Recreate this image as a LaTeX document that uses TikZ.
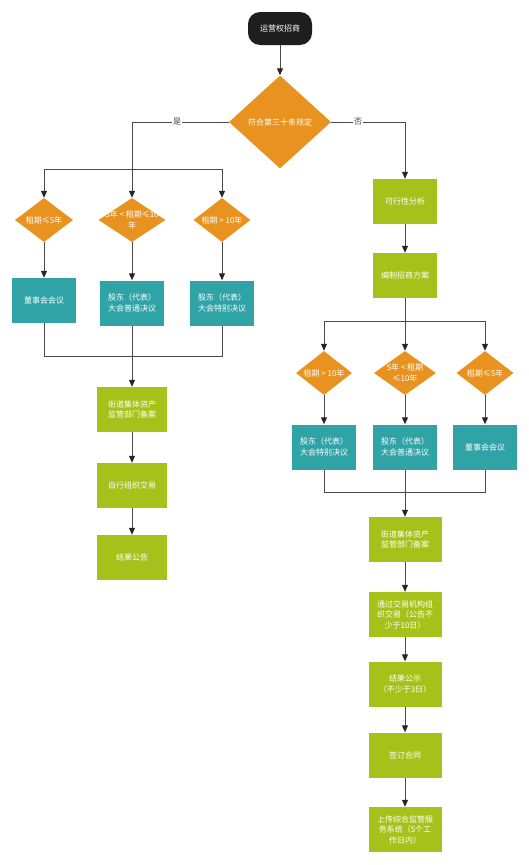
\documentclass[tikz,border=0pt]{standalone}
\usepackage{fontspec}
\newfontfamily\cjk{Noto Sans CJK SC}
\usetikzlibrary{shapes.geometric,arrows.meta}
\definecolor{cOrange}{HTML}{E8921F}
\definecolor{cTeal}{HTML}{2FA3A6}
\definecolor{cGreen}{HTML}{A6C21A}
\definecolor{cLine}{HTML}{4A4A4A}
\definecolor{cStart}{HTML}{1E1E1E}
\tikzset{
  txt/.style={font=\cjk\fontsize{8}{10.5}\selectfont, text=white, align=center, inner sep=0pt},
  startbox/.style={txt, fill=cStart, rounded corners=12pt, minimum width=64pt, minimum height=33pt},
  dia/.style={diamond, fill=cOrange, inner sep=0pt},
  teal/.style={txt, fill=cTeal, minimum width=64pt, minimum height=45pt},
  green/.style={txt, fill=cGreen, minimum width=64pt, minimum height=45pt},
  greenw/.style={txt, fill=cGreen, minimum width=73pt, minimum height=45pt},
  ln/.style={draw=cLine, line width=1pt},
  arr/.style={ln, -{Triangle[length=7pt,width=6pt,fill=black!85,color=black!85]}},
  lbl/.style={font=\cjk\fontsize{8}{10}\selectfont, text=black!75, fill=white, inner sep=1pt},
}
\begin{document}
\begin{tikzpicture}[x=1pt,y=-1pt]
\useasboundingbox (0,0) rectangle (529,865);
% start and main decision
\node[startbox] (start) at (280,28.5) {运营权招商};
\node[dia, minimum width=102pt, minimum height=93pt] (main) at (280,122) {};
\node[txt] (maint) at (main) {符合第三十条规定};
% left branch diamonds
\node[dia, minimum width=58pt, minimum height=44pt] (dL1) at (44,220) {};
\node[txt] (dL1t) at (dL1) {租期≤5年};
\node[dia, minimum width=67pt, minimum height=44pt] (dL2) at (132,220) {};
\node[txt] (dL2t) at (dL2) {5年 < 租期≤10\\年};
\node[dia, minimum width=57pt, minimum height=44pt] (dL3) at (222,220) {};
\node[txt] (dL3t) at (dL3) {租期 > 10年};
% left boxes
\node[teal] (bL1) at (44,300.5) {董事会会议};
\node[teal] (bL2) at (132,303) {股东（代表）\\大会普通决议};
\node[teal] (bL3) at (222,303) {股东（代表）\\大会特别决议};
\node[green, minimum width=70pt] (gL1) at (132,409.5) {街道集体资产\\监管部门备案};
\node[green, minimum width=70pt] (gL2) at (132,485.5) {自行组织交易};
\node[green, minimum width=70pt] (gL3) at (132,557.5) {结果公告};
% right branch
\node[green] (feas) at (405,201.5) {可行性分析};
\node[green] (plan) at (405,275.5) {编制招商方案};
\node[dia, minimum width=56pt, minimum height=44pt] (dR1) at (324,373) {};
\node[txt] (dR1t) at (dR1) {租期 > 10年};
\node[dia, minimum width=62pt, minimum height=44pt] (dR2) at (405,373) {};
\node[txt] (dR2t) at (dR2) {5年 < 租期\\≤10年};
\node[dia, minimum width=57pt, minimum height=44pt] (dR3) at (485,373) {};
\node[txt] (dR3t) at (dR3) {租期≤5年};
\node[teal] (bR1) at (324,447) {股东（代表）\\大会特别决议};
\node[teal] (bR2) at (405,447) {股东（代表）\\大会普通决议};
\node[teal] (bR3) at (485,447) {董事会会议};
\node[greenw] (gR1) at (405,539.5) {街道集体资产\\监管部门备案};
\node[greenw] (gR2) at (405,614.5) {通过交易机构组\\织交易（公告不\\少于10日）};
\node[greenw] (gR3) at (405,684) {结果公示\\（不少于3日）};
\node[greenw] (gR4) at (405,755) {签订合同};
\node[greenw] (gR5) at (405,829.5) {上传综合监管服\\务系统（5个工\\作日内）};
% junction points
\coordinate (lsplit) at (132,169);
\coordinate (lmerge) at (132,356);
\coordinate (rsplit) at (405,321);
\coordinate (rmerge) at (405,492);
% connectors top
\draw[arr] (start.south) -- (main.north);
\draw[ln] (main.west) -- (132,122) -- (lsplit);
\draw[arr] (lsplit) -- (dL2.north);
\draw[arr] (lsplit) -| (dL1.north);
\draw[arr] (lsplit) -| (dL3.north);
\draw[arr] (main.east) -| (feas.north);
\node[lbl] (yes) at (177,122) {是};
\node[lbl] (no) at (358,122) {否};
% left branch connectors
\draw[arr] (dL1.south) -- (bL1.north);
\draw[arr] (dL2.south) -- (bL2.north);
\draw[arr] (dL3.south) -- (bL3.north);
\draw[ln] (bL1.south) |- (lmerge);
\draw[ln] (bL3.south) |- (lmerge);
\draw[arr] (bL2.south) -- (gL1.north);
\draw[arr] (gL1.south) -- (gL2.north);
\draw[arr] (gL2.south) -- (gL3.north);
% right branch connectors
\draw[arr] (feas.south) -- (plan.north);
\draw[arr] (plan.south) -- (dR2.north);
\draw[arr] (rsplit) -| (dR1.north);
\draw[arr] (rsplit) -| (dR3.north);
\draw[arr] (dR1.south) -- (bR1.north);
\draw[arr] (dR2.south) -- (bR2.north);
\draw[arr] (dR3.south) -- (bR3.north);
\draw[ln] (bR1.south) |- (rmerge);
\draw[ln] (bR3.south) |- (rmerge);
\draw[arr] (bR2.south) -- (gR1.north);
\draw[arr] (gR1.south) -- (gR2.north);
\draw[arr] (gR2.south) -- (gR3.north);
\draw[arr] (gR3.south) -- (gR4.north);
\draw[arr] (gR4.south) -- (gR5.north);
\end{tikzpicture}
\end{document}
